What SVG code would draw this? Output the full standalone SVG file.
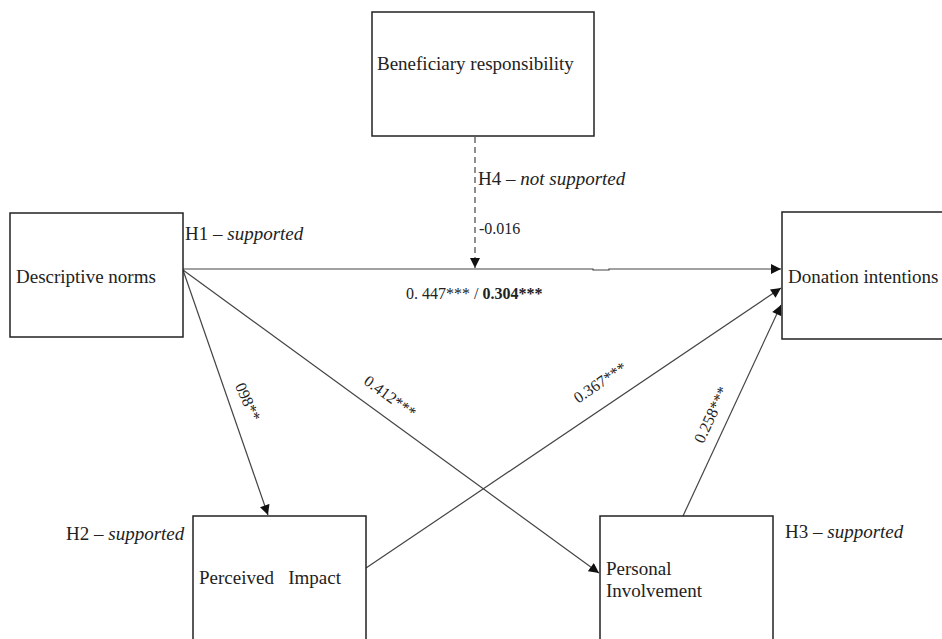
<svg xmlns="http://www.w3.org/2000/svg" width="942" height="639" viewBox="0 0 942 639">
<style>
.box{fill:#fff;stroke:#222;stroke-width:1.5}
.lbl{font-family:"Liberation Serif","Times New Roman",serif;font-size:19px;fill:#222}
.coef{font-family:"Liberation Serif","Times New Roman",serif;font-size:16px;fill:#222}
.edge{stroke:#444;stroke-width:1.2;fill:none}
.dash{stroke:#444;stroke-width:1.2;fill:none;stroke-dasharray:6,4}
</style>
<defs>
<marker id="ah" viewBox="0 0 10 10" refX="10" refY="5" markerWidth="11" markerHeight="10" markerUnits="userSpaceOnUse" orient="auto">
<path d="M0,0 L10,5 L0,10 z" fill="#111"/>
</marker>
</defs>
<rect width="942" height="639" fill="#fff"/>
<g id="connectors">
<path class="edge" d="M183,269 L593,269 L593,270 L609,270 L609,269 L781,269" marker-end="url(#ah)"/>
<line class="dash" x1="475" y1="137" x2="475" y2="268" marker-end="url(#ah)"/>
<line class="edge" x1="183" y1="270" x2="268" y2="515" marker-end="url(#ah)"/>
<line class="edge" x1="183" y1="270" x2="599" y2="573" marker-end="url(#ah)"/>
<line class="edge" x1="366" y1="568" x2="781" y2="288" marker-end="url(#ah)"/>
<line class="edge" x1="683" y1="516" x2="781" y2="305" marker-end="url(#ah)"/>
</g>
<g id="beneficiary">
<rect class="box" x="372" y="12" width="222" height="124"/>
<text class="lbl" x="377" y="70">Beneficiary responsibility</text>
</g>
<g id="descriptive">
<rect class="box" x="10" y="213" width="173" height="124"/>
<text class="lbl" x="16" y="283">Descriptive norms</text>
</g>
<g id="donation">
<rect class="box" x="782" y="212" width="170" height="127"/>
<text class="lbl" x="788" y="283">Donation intentions</text>
</g>
<g id="perceived">
<rect class="box" x="193" y="516" width="173" height="140"/>
<text class="lbl" x="199" y="584" xml:space="preserve">Perceived   Impact</text>
</g>
<g id="personal">
<rect class="box" x="600" y="516" width="173" height="140"/>
<text class="lbl" x="606" y="575">Personal</text>
<text class="lbl" x="606" y="597">Involvement</text>
</g>
<g id="labels">
<text class="lbl" x="185" y="240">H1 – <tspan font-style="italic">supported</tspan></text>
<text class="lbl" x="478" y="185">H4 – <tspan font-style="italic">not supported</tspan></text>
<text class="lbl" x="66" y="540">H2 – <tspan font-style="italic">supported</tspan></text>
<text class="lbl" x="785" y="538">H3 – <tspan font-style="italic">supported</tspan></text>
<text class="coef" x="479" y="234">-0.016</text>
<text class="coef" x="406" y="299">0. 447*** / <tspan font-weight="bold">0.304***</tspan></text>
<text class="coef" text-anchor="middle" transform="translate(243,404) rotate(66)">098**</text>
<text class="coef" text-anchor="middle" transform="translate(387,401) rotate(36)">0.412***</text>
<text class="coef" text-anchor="middle" transform="translate(603,387) rotate(-34)">0.367***</text>
<text class="coef" text-anchor="middle" transform="translate(716,417) rotate(-65)">0.258***</text>
</g>
</svg>
